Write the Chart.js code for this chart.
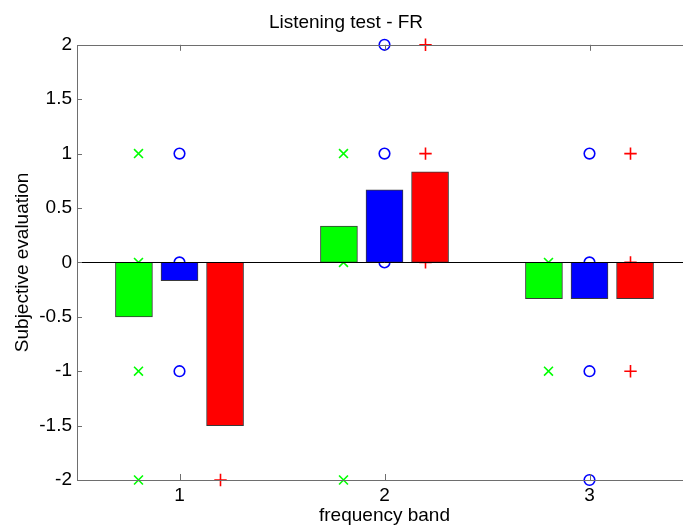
<!DOCTYPE html>
<html>
<head>
<meta charset="utf-8">
<script src="https://cdn.jsdelivr.net/npm/chart.js@4"></script>
<style>
  html, body { margin: 0; padding: 0; background: #fff; overflow: hidden; }
  body { width: 683px; height: 529px; }
</style>
</head>
<body>
<canvas id="myChart" width="700" height="529"></canvas>
<script>
// mean score per frequency band
const bands = ["1", "2", "3"];
const greenMeans = [-0.5, 0.333, -0.333];
const blueMeans = [-0.167, 0.667, -0.333];
const redMeans = [-1.5, 0.833, -0.333];

// individual answers per band (only distinct values)
const greenScores = [[1, 0, -1, -2], [1, 0, -2], [0, -1]];
const blueScores = [[1, 0, -1], [2, 1, 0], [1, 0, -1, -2]];
const redScores = [[-2, -1], [2, 1, 0], [1, 0, -1]];

const yTicks = [-2, -1.5, -1, -0.5, 0, 0.5, 1, 1.5, 2];

const font = "'Liberation Sans', Arial, Helvetica, sans-serif";
Chart.defaults.font.family = font;
Chart.defaults.font.size = 19;
Chart.defaults.color = "#000";

// bands sit at x = 1, 2, 3; groups are spread around them
function barPoints(means, shift) {
  return means.map((v, i) => ({ x: i + 1 + shift, y: v }));
}

function toPoints(scores, shift) {
  const pts = [];
  scores.forEach((list, i) => {
    list.forEach(v => pts.push({ x: i + 1 + shift, y: v }));
  });
  return pts;
}

function barSet(points, color) {
  return {
    type: "bar",
    data: points,
    grouped: false,
    barThickness: 37,
    backgroundColor: color,
    borderColor: "#3a3a3a",
    borderWidth: 1,
    borderSkipped: false,
    order: 0
  };
}

function markSet(points, color, style, radius) {
  return {
    type: "scatter",
    data: points,
    pointStyle: style,
    radius: radius,
    pointBorderColor: color,
    pointBackgroundColor: "rgba(0,0,0,0)",
    pointBorderWidth: 1.6,
    clip: false,
    order: 1
  };
}

// MATLAB-like box, inward ticks and zero line
const matlabAxes = {
  id: "matlabAxes",
  afterDatasetsDraw(chart) {
    const { ctx, chartArea: a, scales } = chart;
    const x = scales.x, y = scales.y;
    ctx.save();
    ctx.strokeStyle = "#000";
    ctx.lineWidth = 1;
    const y0 = Math.round(y.getPixelForValue(0)) + 0.5;
    ctx.beginPath();
    ctx.moveTo(a.left, y0);
    ctx.lineTo(a.right, y0);
    ctx.stroke();

    ctx.strokeStyle = "#6e6e6e";
    ctx.beginPath();
    ctx.rect(Math.round(a.left) + 0.5, Math.round(a.top) + 0.5,
      Math.round(a.right - a.left), Math.round(a.bottom - a.top));
    bands.forEach((b, i) => {
      const px = Math.round(x.getPixelForValue(i + 1)) + 0.5;
      ctx.moveTo(px, a.bottom);
      ctx.lineTo(px, a.bottom - 6);
      ctx.moveTo(px, a.top);
      ctx.lineTo(px, a.top + 6);
    });
    yTicks.forEach(v => {
      const py = Math.round(y.getPixelForValue(v)) + 0.5;
      ctx.moveTo(a.left, py);
      ctx.lineTo(a.left + 5, py);
      ctx.moveTo(a.right, py);
      ctx.lineTo(a.right - 5, py);
    });
    ctx.stroke();
    ctx.restore();
  }
};

new Chart(document.getElementById("myChart"), {
  type: "bar",
  data: {
    datasets: [
      barSet(barPoints(greenMeans, -2 / 9), "#00ff00"),
      barSet(barPoints(blueMeans, 0), "#0000ff"),
      barSet(barPoints(redMeans, 2 / 9), "#ff0000"),
      markSet(toPoints(greenScores, -0.2), "#00ff00", "crossRot", 6.3),
      markSet(toPoints(blueScores, 0), "#0000ff", "circle", 5.3),
      markSet(toPoints(redScores, 0.2), "#ff0000", "cross", 6.2)
    ]
  },
  options: {
    responsive: false,
    animation: false,
    devicePixelRatio: 1,
    layout: { padding: { left: 0, right: 8, top: 0, bottom: 0 } },
    plugins: {
      legend: { display: false },
      tooltip: { enabled: false },
      title: {
        display: true,
        text: "Listening test - FR",
        color: "#000",
        font: { size: 19, weight: "normal" },
        padding: { top: 11, bottom: 11 }
      }
    },
    scales: {
      x: {
        type: "linear",
        offset: false,
        min: 0.5,
        max: 3.5,
        afterBuildTicks(scale) {
          scale.ticks = bands.map((b, i) => ({ value: i + 1 }));
        },
        grid: { display: false, drawTicks: false },
        border: { display: false },
        ticks: { padding: 4, color: "#000", maxRotation: 0, callback: v => bands[Math.round(v) - 1] },
        title: {
          display: true,
          text: "frequency band",
          color: "#000",
          font: { size: 19 },
          padding: { top: 0, bottom: 2 }
        },
        afterFit(scale) { scale.height = 49; }
      },
      y: {
        type: "linear",
        min: -2,
        max: 2,
        afterBuildTicks(scale) {
          scale.ticks = yTicks.map(v => ({ value: v }));
        },
        grid: { display: false, drawTicks: false },
        border: { display: false },
        ticks: { padding: 5, color: "#000", callback: v => String(v) },
        title: {
          display: true,
          text: "Subjective evaluation",
          color: "#000",
          font: { size: 19 },
          padding: { top: 11, bottom: 0 }
        },
        afterFit(scale) { scale.width = 77; }
      }
    }
  },
  plugins: [matlabAxes]
});
</script>
</body>
</html>
